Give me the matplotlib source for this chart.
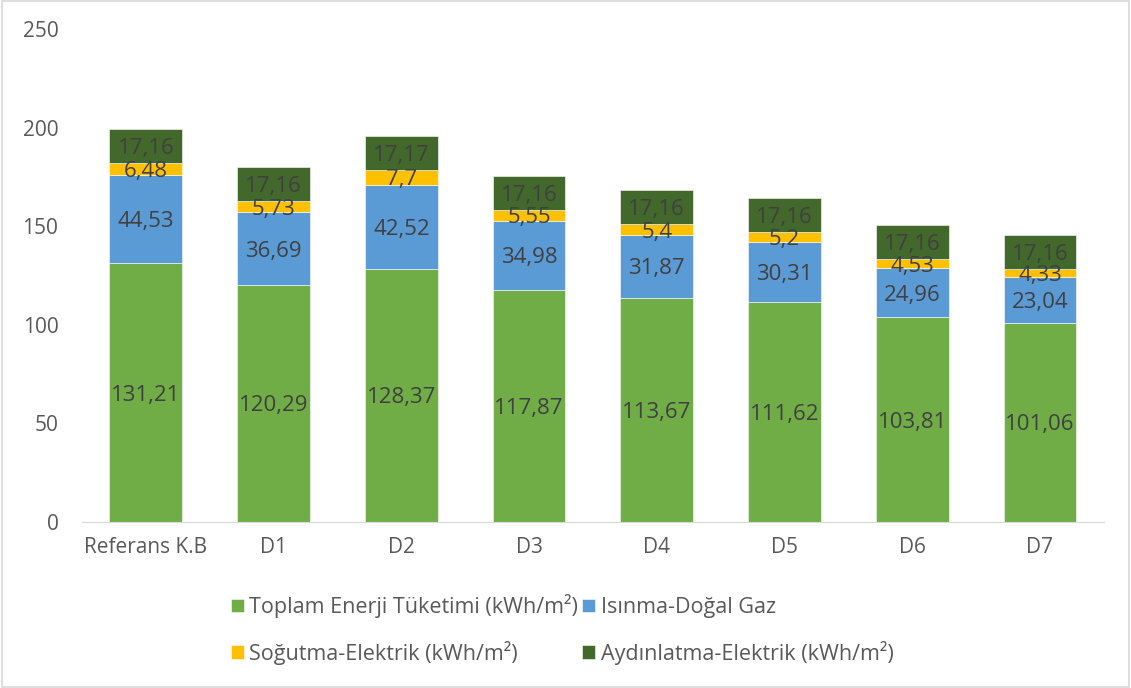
import numpy as np
import matplotlib.pyplot as plt
from matplotlib.patches import Rectangle

plt.rcParams['font.family'] = ['Open Sans', 'DejaVu Sans']

categories = ['Referans K.B', 'D1', 'D2', 'D3', 'D4', 'D5', 'D6', 'D7']
toplam = [131.21, 120.29, 128.37, 117.87, 113.67, 111.62, 103.81, 101.06]
isinma = [44.53, 36.69, 42.52, 34.98, 31.87, 30.31, 24.96, 23.04]
sogutma = [6.48, 5.73, 7.7, 5.55, 5.4, 5.2, 4.53, 4.33]
aydinlatma = [17.16, 17.16, 17.17, 17.16, 17.16, 17.16, 17.16, 17.16]

series = [
    ('Toplam Enerji Tüketimi (kWh/m²)', toplam, '#70AD47'),
    ('Isınma-Doğal Gaz', isinma, '#5B9BD5'),
    ('Soğutma-Elektrik (kWh/m²)', sogutma, '#FFC000'),
    ('Aydınlatma-Elektrik (kWh/m²)', aydinlatma, '#43682B'),
]

fig = plt.figure(figsize=(11.31, 6.88), dpi=100)
ax = fig.add_axes([0.0725, 0.2413, 0.9035, 0.7167])

x = np.arange(len(categories))
bottom = np.zeros(len(categories))
handles = {}
for name, vals, col in series:
    vals = np.array(vals)
    bars = ax.bar(x, vals, 0.57, bottom=bottom, color=col, edgecolor='white',
                  linewidth=0.4, label=name)
    handles[name] = bars
    for xi, b, v in zip(x, bottom, vals):
        ax.text(xi, b + v / 2, f'{v:g}'.replace('.', ','), ha='center',
                va='center_baseline', fontsize=16, color='#404040')
    bottom += vals

ax.set_xlim(-0.5, len(categories) - 0.5)
ax.set_ylim(0, 250)
ax.set_yticks([0, 50, 100, 150, 200, 250])
ax.set_xticks(x)
ax.set_xticklabels(categories)
ax.tick_params(axis='both', length=0, labelsize=15, colors='#595959')
ax.tick_params(axis='y', pad=17)
ax.tick_params(axis='x', pad=11)
for s in ['top', 'right', 'left']:
    ax.spines[s].set_visible(False)
ax.spines['bottom'].set_color('#D9D9D9')

names = [s[0] for s in series]
order = [names[0], names[2], names[1], names[3]]
leg = fig.legend([handles[n] for n in order], order, ncol=2, loc='center',
                 bbox_to_anchor=(0.497, 0.085), frameon=False, fontsize=15.5,
                 handlelength=0.6, handleheight=0.6, handletextpad=0.25,
                 columnspacing=0.2, labelspacing=1.05)
for t in leg.get_texts():
    t.set_color('#595959')

fig.patches.append(Rectangle((0.002, 0.002), 0.996, 0.996, transform=fig.transFigure,
                             fill=False, edgecolor='#D9D9D9', linewidth=1.2))

fig.savefig('out.png', dpi=100)
